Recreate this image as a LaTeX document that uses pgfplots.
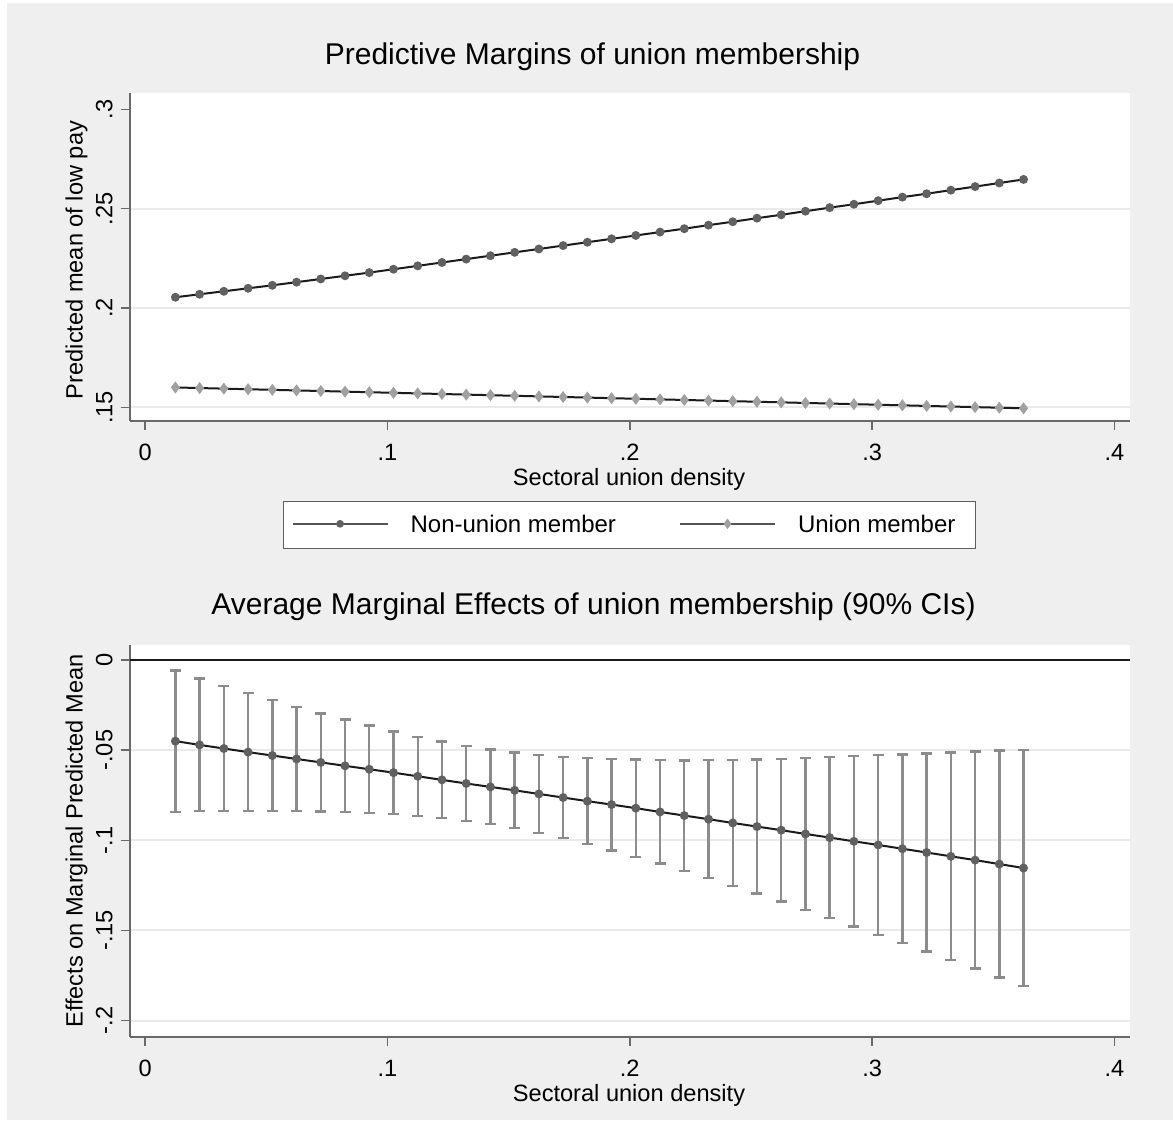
\documentclass[border=0pt]{standalone}
\usepackage{pgfplots}
\pgfplotsset{compat=1.18}
\usepackage{pgfplotstable}
\usepackage{fontspec}
\setmainfont{Liberation Sans}

\definecolor{bggray}{RGB}{239,239,239}
\definecolor{gridgray}{RGB}{234,234,234}
\definecolor{axisgray}{RGB}{105,105,105}
\definecolor{mdark}{RGB}{96,96,96}
\definecolor{mlight}{RGB}{160,160,160}
\definecolor{cigray}{RGB}{140,140,140}
\definecolor{lineblack}{RGB}{26,26,26}
\definecolor{legdraw}{RGB}{95,95,95}
\definecolor{legline}{RGB}{85,85,85}

\pgfplotstableread{
x nu u
0.0125 0.2054 0.1600
0.0225 0.2069 0.1597
0.0325 0.2084 0.1594
0.0425 0.2099 0.1591
0.0525 0.2114 0.1588
0.0625 0.2130 0.1585
0.0725 0.2146 0.1582
0.0825 0.2162 0.1579
0.0925 0.2178 0.1576
0.1025 0.2195 0.1573
0.1125 0.2212 0.1570
0.1225 0.2229 0.1567
0.1325 0.2246 0.1564
0.1425 0.2263 0.1561
0.1525 0.2280 0.1558
0.1625 0.2297 0.1555
0.1725 0.2314 0.1552
0.1825 0.2331 0.1549
0.1925 0.2348 0.1546
0.2025 0.2365 0.1543
0.2125 0.2382 0.1540
0.2225 0.2399 0.1537
0.2325 0.2417 0.1534
0.2425 0.2434 0.1531
0.2525 0.2452 0.1528
0.2625 0.2469 0.1525
0.2725 0.2487 0.1522
0.2825 0.2505 0.1519
0.2925 0.2522 0.1516
0.3025 0.2540 0.1513
0.3125 0.2558 0.1510
0.3225 0.2575 0.1507
0.3325 0.2593 0.1504
0.3425 0.2611 0.1501
0.3525 0.2629 0.1498
0.3625 0.2647 0.1495
}\topdata

\pgfplotstableread{
x y e
0.0125 -0.0450 0.0392
0.0225 -0.0471 0.0368
0.0325 -0.0491 0.0347
0.0425 -0.0511 0.0327
0.0525 -0.0530 0.0307
0.0625 -0.0549 0.0288
0.0725 -0.0568 0.0272
0.0825 -0.0587 0.0256
0.0925 -0.0606 0.0242
0.1025 -0.0625 0.0229
0.1125 -0.0645 0.0219
0.1225 -0.0665 0.0212
0.1325 -0.0685 0.0208
0.1425 -0.0704 0.0207
0.1525 -0.0723 0.0210
0.1625 -0.0743 0.0217
0.1725 -0.0763 0.0226
0.1825 -0.0783 0.0239
0.1925 -0.0802 0.0254
0.2025 -0.0822 0.0270
0.2125 -0.0843 0.0287
0.2225 -0.0863 0.0306
0.2325 -0.0883 0.0327
0.2425 -0.0904 0.0349
0.2525 -0.0924 0.0372
0.2625 -0.0944 0.0396
0.2725 -0.0965 0.0421
0.2825 -0.0985 0.0446
0.2925 -0.1006 0.0472
0.3025 -0.1026 0.0498
0.3125 -0.1047 0.0523
0.3225 -0.1068 0.0549
0.3325 -0.1089 0.0576
0.3425 -0.1110 0.0602
0.3525 -0.1132 0.0629
0.3625 -0.1154 0.0656
}\botdata

\pgfplotsset{
  stataaxis/.style={
    scale only axis, width=500pt,
    xmin=-0.00623, xmax=0.40643,
    axis x line*=bottom, axis y line*=left,
    axis line style={axisgray, line width=1pt},
    tick align=outside, major tick length=4.5pt,
    every tick/.style={axisgray, line width=0.75pt},
    xtick={0,0.1,0.2,0.3,0.4}, xticklabels={0,.1,.2,.3,.4},
    tick label style={font=\fontsize{11.8}{14}\selectfont, text=black},
    xticklabel style={anchor=base, yshift=-15.5pt},
    yticklabel style={xshift=-4.3pt, rotate=90, anchor=base},
    ymajorgrids, major grid style={gridgray, line width=1pt},
    axis background/.style={fill=white},
  }
}

\begin{document}
\begin{tikzpicture}
\useasboundingbox (0,0) rectangle (586.5pt,-560pt);
\fill[white] (0,0) rectangle (586.5pt,-560pt);
\fill[bggray] (3.5pt,-1.5pt) rectangle (586.5pt,-560pt);

\begin{axis}[stataaxis,
  at={(65pt,-210.25pt)}, anchor=south west,
  height=163.6pt,
  ymin=0.14336, ymax=0.30805,
  ytick={0.15,0.2,0.25}, yticklabels={.15,.2,.25},
  extra y ticks={0.3}, extra y tick labels={.3},
  extra y tick style={ymajorgrids=false},
  legend columns=2,
  legend style={at={(0.4995,-0.3194)}, anchor=center, draw=legdraw,
    line width=0.75pt, fill=white, inner xsep=4pt, inner ysep=6.6pt,
    font=\fontsize{12}{14}\selectfont, nodes={inner sep=0pt},
    /tikz/every odd column/.append style={column sep=11pt},
    /tikz/every even column/.append style={column sep=31.5pt}},
  legend image code/.code={\draw[mark repeat=2,mark phase=2,#1] plot coordinates {(0pt,0.6pt) (23.75pt,0.6pt) (47.5pt,0.6pt)};},
]
\addplot[forget plot, lineblack, line width=1pt, mark=*, mark size=1.7pt,
  mark options={fill=mdark, draw=mdark}] table[x=x, y=nu] {\topdata};
\addplot[forget plot, lineblack, line width=1pt, mark=diamond*, mark size=2.2pt,
  mark options={fill=mlight, draw=mlight}] table[x=x, y=u] {\topdata};
\addlegendimage{legline, line width=1pt, mark=*, mark size=1.4pt, mark options={fill=mdark, draw=mdark}}
\addlegendentry{Non-union member}
\addlegendimage{legline, line width=1pt, mark=diamond*, mark size=1.8pt, mark options={fill=mlight, draw=mlight}}
\addlegendentry{Union member\rule{6pt}{0pt}}
\end{axis}

\begin{axis}[stataaxis,
  at={(65pt,-518.35pt)}, anchor=south west,
  height=196.1pt,
  ymin=-0.20898, ymax=0.00859,
  ytick={-0.2,-0.15,-0.1,-0.05}, yticklabels={-.2,-.15,-.1,-.05},
  extra y ticks={0}, extra y tick labels={0},
  extra y tick style={major grid style={lineblack, line width=1pt}},
]
\addplot[draw=none, mark=none, forget plot,
  error bars/.cd, y dir=both, y explicit,
  error bar style={draw=cigray, line width=1.2pt},
  error mark options={draw=cigray, line width=1.2pt, mark size=2.75pt, rotate=90}]
  table[x=x, y=y, y error=e] {\botdata};
\addplot[lineblack, line width=1pt, mark=*, mark size=1.7pt,
  mark options={fill=mdark, draw=mdark}] table[x=x, y=y] {\botdata};
\end{axis}

\begin{scope}[x=0.5pt, y=-0.5pt]
\node[anchor=base, inner sep=0pt] at (592.5,64.5) {\fontsize{15}{18}\selectfont Predictive Margins of union membership};
\node[anchor=base, inner sep=0pt] at (593.5,614) {\fontsize{15}{18}\selectfont Average Marginal Effects of union membership (90\% CIs)};
\node[anchor=base, inner sep=0pt] at (629,485) {\fontsize{11.8}{14}\selectfont Sectoral union density};
\node[anchor=base, inner sep=0pt] at (629,1101) {\fontsize{11.8}{14}\selectfont Sectoral union density};
\node[rotate=90, anchor=base, inner sep=0pt] at (82.7,260) {\fontsize{11.8}{14}\selectfont Predicted mean of low pay};
\node[rotate=90, anchor=base, inner sep=0pt] at (82.7,841) {\fontsize{11.8}{14}\selectfont Effects on Marginal Predicted Mean};
\end{scope}
\end{tikzpicture}
\end{document}
